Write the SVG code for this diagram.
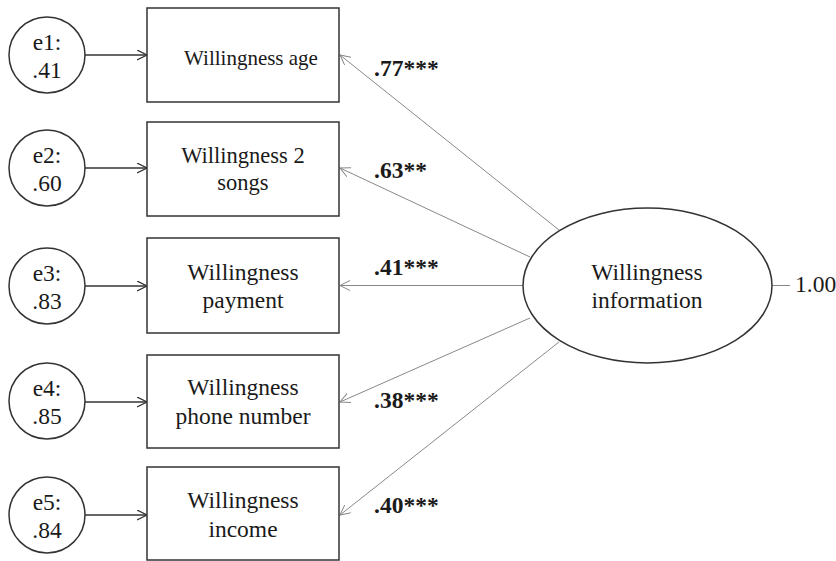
<svg xmlns="http://www.w3.org/2000/svg" width="836" height="561" viewBox="0 0 836 561">
  <defs>
    <marker id="headDark" markerUnits="userSpaceOnUse" markerWidth="12" markerHeight="12" refX="10" refY="5" orient="auto" viewBox="0 0 12 12">
      <path d="M0,0 L10,5 L0,10" fill="none" stroke="#333" stroke-width="1.3"/>
    </marker>
    <marker id="headGray" markerUnits="userSpaceOnUse" markerWidth="12" markerHeight="12" refX="10" refY="5" orient="auto" viewBox="0 0 12 12">
      <path d="M0,0 L10,5 L0,10" fill="none" stroke="#888" stroke-width="1"/>
    </marker>
  </defs>
  <style>
    text { font-family: "Liberation Serif", "Times New Roman", serif; font-size: 23.5px; fill: #1a1a1a; text-anchor: middle; }
    .box { fill: #fff; stroke: #333; stroke-width: 1.5; }
    .err { fill: #fff; stroke: #333; stroke-width: 1.5; }
    .lat { fill: #fff; stroke: #333; stroke-width: 1.5; }
    .err-path { stroke: #333; stroke-width: 1.3; fill: none; marker-end: url(#headDark); }
    .load { stroke: #888; stroke-width: 1; fill: none; marker-end: url(#headGray); }
    .coef { font-weight: bold; text-anchor: start; }
    .num { text-anchor: start; }
    .small { font-size: 21px; }
    .mid { font-size: 22.5px; }
  </style>

  <rect width="836" height="561" fill="#fff"/>

  <!-- connectors -->
  <g id="connectors">
    <line class="err-path" x1="85" y1="55" x2="147" y2="55"/>
    <line class="err-path" x1="85" y1="168" x2="147" y2="168"/>
    <line class="err-path" x1="85" y1="286" x2="147" y2="286"/>
    <line class="err-path" x1="85" y1="402" x2="147" y2="402"/>
    <line class="err-path" x1="85" y1="515" x2="147" y2="515"/>

    <line class="load" x1="559" y1="230" x2="340" y2="55"/>
    <line class="load" x1="530" y1="257" x2="340" y2="168"/>
    <line class="load" x1="523" y1="285.5" x2="340" y2="285.5"/>
    <line class="load" x1="530" y1="318" x2="340" y2="402"/>
    <line class="load" x1="559" y1="342" x2="340" y2="515"/>

    <line x1="772" y1="285.5" x2="790" y2="285.5" stroke="#888" stroke-width="1"/>
  </g>

  <!-- error terms -->
  <g id="e1">
    <circle class="err" cx="47" cy="55" r="38"/>
    <text x="47" y="50">e1:</text>
    <text x="47" y="78">.41</text>
  </g>
  <g id="e2">
    <circle class="err" cx="47" cy="168" r="38"/>
    <text x="47" y="163">e2:</text>
    <text x="47" y="191">.60</text>
  </g>
  <g id="e3">
    <circle class="err" cx="47" cy="286" r="38"/>
    <text x="47" y="281">e3:</text>
    <text x="47" y="309">.83</text>
  </g>
  <g id="e4">
    <circle class="err" cx="47" cy="401" r="38"/>
    <text x="47" y="396">e4:</text>
    <text x="47" y="424">.85</text>
  </g>
  <g id="e5">
    <circle class="err" cx="47" cy="515" r="38"/>
    <text x="47" y="510">e5:</text>
    <text x="47" y="538">.84</text>
  </g>

  <!-- observed indicators -->
  <g id="age">
    <rect class="box" x="147" y="8" width="192" height="94"/>
    <text class="small" x="251" y="65">Willingness age</text>
  </g>
  <g id="songs">
    <rect class="box" x="147" y="122" width="192" height="94"/>
    <text class="mid" x="243" y="163">Willingness 2</text>
    <text class="mid" x="243" y="190">songs</text>
  </g>
  <g id="payment">
    <rect class="box" x="147" y="238" width="192" height="95"/>
    <text x="243" y="280">Willingness</text>
    <text x="243" y="308">payment</text>
  </g>
  <g id="phone">
    <rect class="box" x="147" y="355" width="192" height="93"/>
    <text x="243" y="395">Willingness</text>
    <text x="243" y="424">phone number</text>
  </g>
  <g id="income">
    <rect class="box" x="147" y="467" width="192" height="93"/>
    <text x="243" y="508">Willingness</text>
    <text x="243" y="537">income</text>
  </g>

  <!-- latent factor -->
  <g id="information">
    <ellipse class="lat" cx="647.5" cy="285.5" rx="124.5" ry="77.5"/>
    <text x="647" y="280">Willingness</text>
    <text x="647" y="308">information</text>
  </g>
  <g id="variance">
    <text class="num" x="795" y="292">1.00</text>
  </g>

  <!-- loading labels -->
  <g id="loadings">
    <text class="coef" x="374" y="76">.77***</text>
    <text class="coef" x="374" y="178">.63**</text>
    <text class="coef" x="374" y="275">.41***</text>
    <text class="coef" x="374" y="408">.38***</text>
    <text class="coef" x="374" y="513">.40***</text>
  </g>
</svg>
